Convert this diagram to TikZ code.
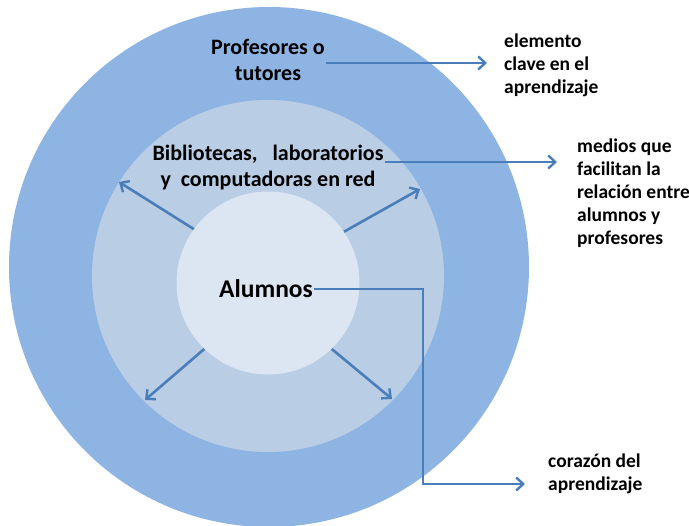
\documentclass[tikz,border=0pt]{standalone}
\usepackage{fontspec}
\setmainfont{Carlito}
\usetikzlibrary{arrows.meta}
\definecolor{outerc}{HTML}{8EB4E3}
\definecolor{midc}{HTML}{B9CDE5}
\definecolor{innerc}{HTML}{DCE6F2}
\definecolor{arrc}{HTML}{4A7EBB}
\tikzset{
  ring/.style={circle, inner sep=0pt, draw=none},
  arr/.style={draw=arrc, line width=2.6pt, -{Straight Barb[length=7pt,width=13pt,line width=2.4pt]}},
  lbl/.style={font=\bfseries\fontsize{22}{26}\selectfont, align=center, inner sep=1pt},
  side/.style={font=\bfseries\fontsize{19.5}{23}\selectfont, align=left, anchor=west, inner sep=0pt}
}
\begin{document}
\begin{tikzpicture}[x=1pt,y=-1pt]
\useasboundingbox (0,0) rectangle (689,526);
\node[ring, fill=outerc, minimum size=520pt] (outer) at (269,267) {};
\node[ring, fill=midc, minimum size=352pt] (middle) at (268,276) {};
\node[ring, fill=innerc, minimum size=183pt] (inner) at (268,283) {};

\node[lbl] (prof) at (268,60) {Profesores o\\tutores};
\node[lbl, font=\bfseries\fontsize{22}{26}\selectfont] (bib) at (268,168) {Bibliotecas,\ \ \ laboratorios\\y\ \ computadoras en red};
\node[lbl, font=\bfseries\fontsize{25.5}{28}\selectfont] (alum) at (266,289) {Alumnos};

\node[side] (elem) at (504,65) {elemento\\clave en el\\aprendizaje};
\node[side] (medios) at (577,193) {medios que\\facilitan la\\relación entre\\alumnos y\\profesores};
\node[side] (coraz) at (548,474) {corazón del\\aprendizaje};

\coordinate (t1) at (487,63);
\coordinate (t2) at (557,162);
\coordinate (bend) at (423,484);
\coordinate (t3) at (525,484);
\coordinate (ul) at (119,182);
\coordinate (ur) at (420,189);
\coordinate (ll) at (145,400);
\coordinate (lr) at (392,399);

\draw[arr] (prof.east |- t1) -- (t1);
\draw[arr] (bib.east |- t2) -- (t2);
\draw[arr] (alum.east) -| (bend) -- (t3);
\draw[arr] (inner.144) -- (ul);
\draw[arr] (inner.34) -- (ur);
\draw[arr] (inner.226) -- (ll);
\draw[arr] (inner.314) -- (lr);
\end{tikzpicture}
\end{document}
